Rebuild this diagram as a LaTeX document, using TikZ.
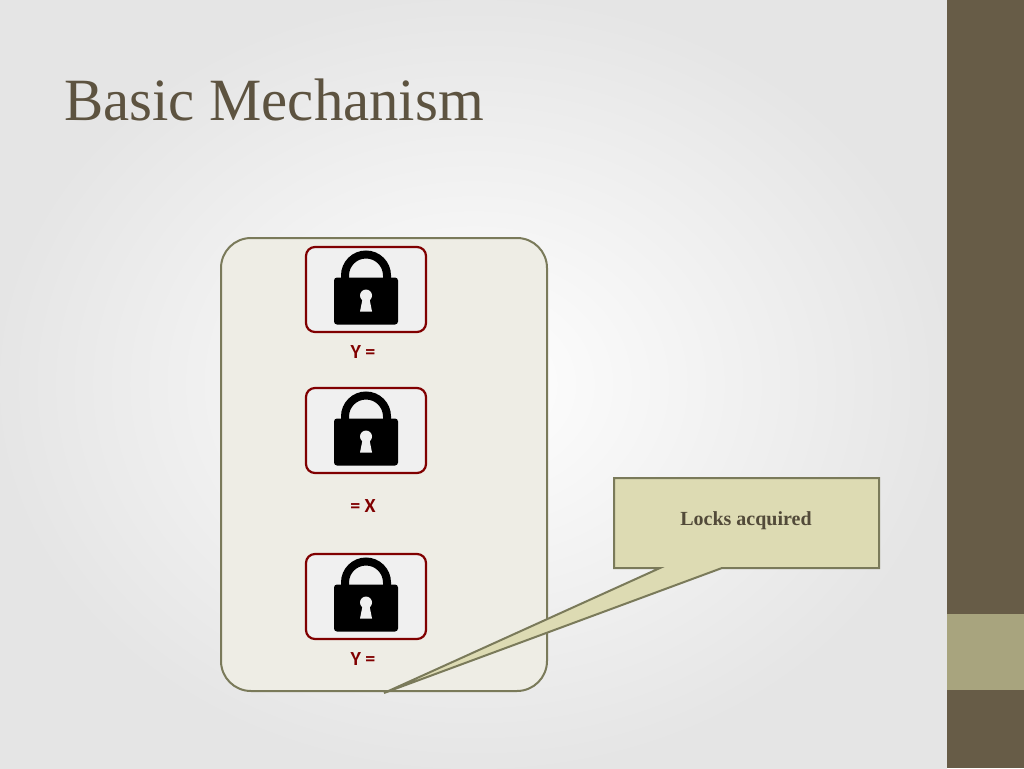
\documentclass[tikz,border=0pt]{standalone}
\usepackage{fontspec}
\setmainfont{Liberation Serif}
\newfontfamily\carl{Carlito}
\begin{document}
\begin{tikzpicture}[x=1pt,y=-1pt,
  lockbox/.style={draw=red!50!black,line width=2.2pt,rounded corners=9pt,fill=white!94!black},
  lbl/.style={text=red!50!black,font=\carl\bfseries\fontsize{20}{22}\selectfont}]
\definecolor{olive}{HTML}{675C47}
\definecolor{lolive}{HTML}{A8A47E}
\definecolor{bord}{HTML}{7A7A5A}
\definecolor{panelc}{HTML}{EEEDE5}
\definecolor{callc}{HTML}{DDDBB3}
\useasboundingbox (0,0) rectangle (1024,768);
\shade[inner color=white, outer color=white!90!black] (0,0) rectangle (947,768);
\fill[olive] (947,0) rectangle (1024,768);
\fill[lolive] (947,614) rectangle (1024,690);
\node[anchor=west,text=olive!90!black,font=\fontsize{60}{66}\selectfont,xscale=0.98,inner sep=0pt] (title) at (64,100) {Basic Mechanism};
\node[draw=bord,line width=2pt,fill=panelc,rounded corners=30pt,minimum width=326pt,minimum height=453pt] (panel) at (384,464.5) {};
\foreach \n/\y in {a/289.5,b/430.5,c/596.5}{
  \node[lockbox,minimum width=120pt,minimum height=85pt] (\n) at (366,\y) {};
  \begin{scope}[shift={(366,\y)}]
    \draw[line width=8pt] (-21,-8) -- (-21,-14) arc[start angle=180,end angle=360,radius=21] -- (21,-8);
    \fill[black,rounded corners=3pt] (-32,-12) rectangle (32,35);
    \fill[white!94!black] (0,6) circle (6);
    \fill[white!94!black] (-3,7) -- (-6,22) -- (6,22) -- (3,7) -- cycle;
  \end{scope}
}
\node[lbl] (l1) at (363,352) {Y =};
\node[lbl] (l2) at (363,506) {= X};
\node[lbl] (l3) at (363,659) {Y =};
\coordinate (tip) at (384,693);
\draw[bord,fill=callc,line width=2pt,line join=miter] (614,478) -- (879,478) -- (879,568) -- (722,568) -- (tip) -- (660,568) -- (614,568) -- cycle;
\node[text=olive!80!black,font=\bfseries\fontsize{20}{22}\selectfont] (call) at (746,521) {Locks acquired};
\end{tikzpicture}
\end{document}
